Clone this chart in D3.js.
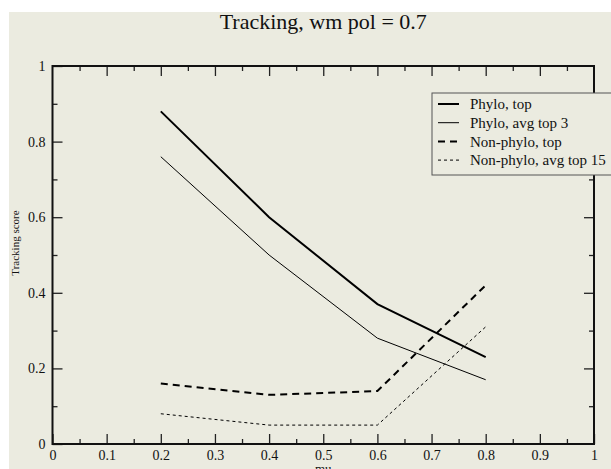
<!DOCTYPE html>
<html>
<head>
<meta charset="utf-8">
<script src="https://cdn.jsdelivr.net/npm/d3@7"></script>
<style>
  body { margin: 0; background: #fff; }
  svg { display: block; }
  text { font-family: "Liberation Serif", "DejaVu Serif", serif; fill: #111; }
</style>
</head>
<body>
<svg id="chart" width="611" height="469"></svg>
<script>
// data
var muValues      = [0.2, 0.4, 0.6, 0.8];
var phyloTop      = [0.88, 0.60, 0.37, 0.23];
var phyloAvgTop3  = [0.76, 0.50, 0.28, 0.17];
var nonPhyloTop   = [0.16, 0.13, 0.14, 0.42];
var nonPhyloAvg15 = [0.08, 0.05, 0.05, 0.31];
var seriesNames   = ["Phylo, top", "Phylo, avg top 3", "Non-phylo, top", "Non-phylo, avg top 15"];
var xTicks        = [0, 0.1, 0.2, 0.3, 0.4, 0.5, 0.6, 0.7, 0.8, 0.9, 1];
var yTicks        = [0, 0.2, 0.4, 0.6, 0.8, 1];

var W = 611, H = 469;
var bg = "#ebebe0";
var plot = { left: 52.5, right: 594, top: 66, bottom: 444 };
var serif = '"Liberation Serif", "DejaVu Serif", serif';

var svg = d3.select("#chart");

// beige page (the grace canvas), white strip top and left
svg.append("rect")
    .attr("x", 9).attr("y", 12)
    .attr("width", W).attr("height", H)
    .attr("fill", bg);

var x = d3.scaleLinear().domain([0, 1]).range([plot.left, plot.right]);
var y = d3.scaleLinear().domain([0, 1]).range([plot.bottom, plot.top]);

var fmt = function(d) { return d === 0 || d === 1 ? d3.format("d")(d) : d3.format(".1f")(d); };
var minorX = d3.range(0.05, 1, 0.1);
var minorY = d3.range(0.1, 1, 0.2);

function styleAxis(g) {
    g.attr("font-family", serif).attr("font-size", 14);
    g.select(".domain").remove();
    g.selectAll(".tick line").attr("stroke", "#222").attr("stroke-width", 1.3);
    g.selectAll(".tick text")
        .style("font-family", serif)
        .style("font-size", "14px")
        .attr("fill", "#111");
}

// bottom axis, ticks pointing in
svg.append("g").attr("transform", "translate(0," + plot.bottom + ")")
    .call(d3.axisBottom(x).tickValues(xTicks).tickFormat(fmt).tickSizeInner(-10).tickSizeOuter(0))
    .call(styleAxis)
    .call(function(g) { g.selectAll(".tick text").attr("y", 6).attr("dy", "0.71em"); });
svg.append("g").attr("transform", "translate(0," + plot.bottom + ")")
    .call(d3.axisBottom(x).tickValues(minorX).tickFormat("").tickSizeInner(-5).tickSizeOuter(0))
    .call(styleAxis);

// top axis
svg.append("g").attr("transform", "translate(0," + plot.top + ")")
    .call(d3.axisTop(x).tickValues(xTicks.slice(1, -1)).tickFormat("").tickSizeInner(-10).tickSizeOuter(0))
    .call(styleAxis);
svg.append("g").attr("transform", "translate(0," + plot.top + ")")
    .call(d3.axisTop(x).tickValues(minorX).tickFormat("").tickSizeInner(-5).tickSizeOuter(0))
    .call(styleAxis);

// left axis
svg.append("g").attr("transform", "translate(" + plot.left + ",0)")
    .call(d3.axisLeft(y).tickValues(yTicks).tickFormat(fmt).tickSizeInner(-10).tickSizeOuter(0))
    .call(styleAxis)
    .call(function(g) { g.selectAll(".tick text").attr("x", -7); });
svg.append("g").attr("transform", "translate(" + plot.left + ",0)")
    .call(d3.axisLeft(y).tickValues(minorY).tickFormat("").tickSizeInner(-5).tickSizeOuter(0))
    .call(styleAxis);

// right axis
svg.append("g").attr("transform", "translate(" + plot.right + ",0)")
    .call(d3.axisRight(y).tickValues(yTicks.slice(1, -1)).tickFormat("").tickSizeInner(-10).tickSizeOuter(0))
    .call(styleAxis);
svg.append("g").attr("transform", "translate(" + plot.right + ",0)")
    .call(d3.axisRight(y).tickValues(minorY).tickFormat("").tickSizeInner(-5).tickSizeOuter(0))
    .call(styleAxis);

// frame
svg.append("rect")
    .attr("x", plot.left).attr("y", plot.top)
    .attr("width", plot.right - plot.left).attr("height", plot.bottom - plot.top)
    .attr("fill", "none").attr("stroke", "#111").attr("stroke-width", 2);

// series
var series = [
    { name: seriesNames[0], values: phyloTop,      width: 2, dash: null },
    { name: seriesNames[1], values: phyloAvgTop3,  width: 1, dash: null },
    { name: seriesNames[2], values: nonPhyloTop,   width: 2, dash: "7,5" },
    { name: seriesNames[3], values: nonPhyloAvg15, width: 1, dash: "3,3" }
];

var line = d3.line()
    .x(function(d) { return x(d[0]); })
    .y(function(d) { return y(d[1]); });

svg.append("g").selectAll("path")
    .data(series)
    .join("path")
    .attr("d", function(s) { return line(d3.zip(muValues, s.values)); })
    .attr("fill", "none")
    .attr("stroke", "#000")
    .attr("stroke-width", function(s) { return s.width; })
    .attr("stroke-dasharray", function(s) { return s.dash; });

// legend
var lg = svg.append("g").attr("transform", "translate(432,93)");
lg.append("rect")
    .attr("width", 190).attr("height", 82)
    .attr("fill", bg).attr("stroke", "#555").attr("stroke-width", 1);
var rows = lg.selectAll("g.row")
    .data(series)
    .join("g")
    .attr("class", "row")
    .attr("transform", function(d, i) { return "translate(0," + (11 + i * 18.7) + ")"; });
rows.append("line")
    .attr("x1", 6).attr("x2", 27)
    .attr("stroke", "#000")
    .attr("stroke-width", function(s) { return s.width; })
    .attr("stroke-dasharray", function(s) { return s.dash; });
rows.append("text")
    .attr("x", 38).attr("dy", "0.35em")
    .style("font-size", "15px")
    .text(function(s) { return s.name; });

// titles
svg.append("text")
    .attr("x", (plot.left + plot.right) / 2).attr("y", 29)
    .attr("text-anchor", "middle")
    .style("font-size", "22px")
    .text("Tracking, wm pol = 0.7");

svg.append("text")
    .attr("x", (plot.left + plot.right) / 2).attr("y", 473)
    .attr("text-anchor", "middle")
    .style("font-size", "13px")
    .text("mu");

svg.append("text")
    .attr("transform", "translate(19,243) rotate(-90)")
    .attr("text-anchor", "middle")
    .style("font-size", "11px")
    .text("Tracking score");
</script>
</body>
</html>
